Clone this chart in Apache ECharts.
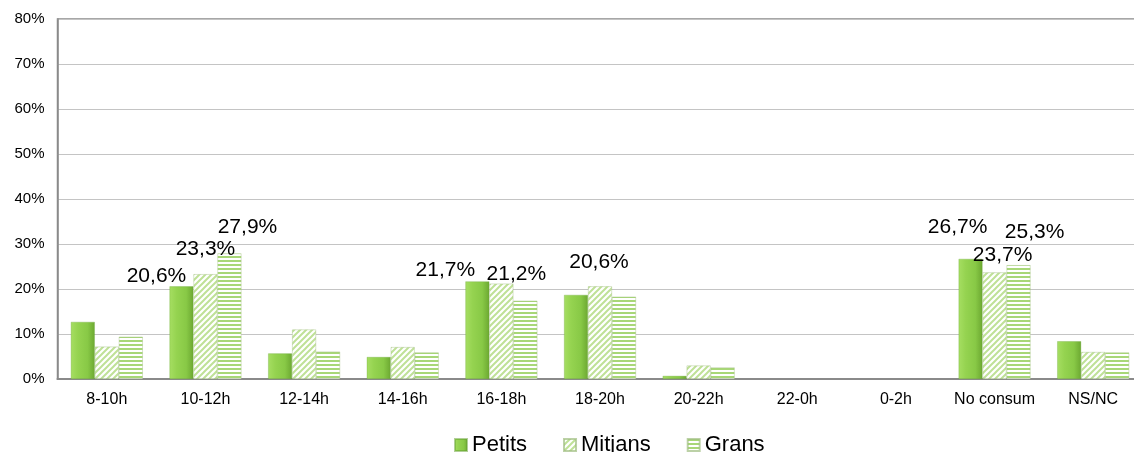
<!DOCTYPE html>
<html>
<head>
<meta charset="utf-8">
<script src="https://cdn.jsdelivr.net/npm/echarts@6/dist/echarts.min.js"></script>
<style>html,body{margin:0;padding:0;background:#fff;overflow:hidden;width:1134px;height:452px}#c{width:1143px;height:452px}</style>
</head>
<body>
<div id="c"></div>
<script>
var categories = ['8-10h','10-12h','12-14h','14-16h','16-18h','18-20h','20-22h','22-0h','0-2h','No consum','NS/NC'];
var seriesNames = ['Petits','Mitjans','Grans'];
var petits  = [12.7, 20.6, 5.7, 4.9, 21.7, 18.7, 0.7, 0, 0, 26.7, 8.4];
var mitjans = [7.2, 23.3, 11.0, 7.1, 21.2, 20.6, 3.0, 0, 0, 23.7, 6.0];
var grans   = [9.4, 27.9, 6.1, 5.9, 17.4, 18.3, 2.6, 0, 0, 25.3, 5.9];
var yTicks = [0, 10, 20, 30, 40, 50, 60, 70, 80];

// label placement (style only): [seriesIndex, categoryIndex] -> offset
var labelOffsets = {
  '0-1': [-25, 0], '1-1': [0, -14], '2-1': [18, -16],
  '0-4': [-32, -1], '1-4': [15, 1],
  '1-5': [-1, -14],
  '0-9': [-13, -21], '1-9': [8, -7], '2-9': [16, -22]
};

function makePattern(kind) {
  var c = document.createElement('canvas');
  var ctx = c.getContext('2d');
  if (kind === 'diag') {
    c.width = 6; c.height = 6;
    ctx.fillStyle = '#ffffff'; ctx.fillRect(0, 0, 6, 6);
    ctx.strokeStyle = '#bfe197'; ctx.lineWidth = 2.0;
    ctx.beginPath();
    ctx.moveTo(-1, 7); ctx.lineTo(7, -1);
    ctx.moveTo(-4, 4); ctx.lineTo(4, -4);
    ctx.moveTo(2, 10); ctx.lineTo(10, 2);
    ctx.stroke();
  } else {
    c.width = 4; c.height = 4;
    ctx.fillStyle = '#ffffff'; ctx.fillRect(0, 0, 4, 4);
    ctx.fillStyle = '#a8d777'; ctx.fillRect(0, 0, 4, 2);
  }
  return { image: c, repeat: 'repeat' };
}

var solidGreen = new echarts.graphic.LinearGradient(0, 0, 1, 0, [
  { offset: 0, color: '#a6de62' },
  { offset: 0.3, color: '#95d350' },
  { offset: 0.7, color: '#88c946' },
  { offset: 1, color: '#6ca831' }
]);
var colors = [solidGreen, makePattern('diag'), makePattern('horiz')];
var allData = [petits, mitjans, grans];
var fontFam = '"Liberation Sans", Arial, sans-serif';

function buildData(si) {
  return allData[si].map(function (v, ci) {
    var off = labelOffsets[si + '-' + ci];
    var item = { value: v };
    if (v === 0) { item.itemStyle = { borderWidth: 0 }; }
    if (off) {
      item.label = {
        show: true, position: 'top', distance: 0, offset: off,
        color: '#000', fontSize: 21, fontFamily: fontFam,
        formatter: function (p) { return p.value.toFixed(1).replace('.', ',') + '%'; }
      };
    }
    return item;
  });
}

var series = seriesNames.map(function (name, si) {
  return {
    name: name, type: 'bar', barWidth: 24, barGap: '0%',
    itemStyle: {
      color: colors[si],
      borderColor: si === 0 ? 'rgba(100,160,50,0.5)' : 'rgba(160,190,130,0.7)',
      borderWidth: 0.6
    },
    label: { show: false },
    emphasis: { disabled: true },
    data: buildData(si)
  };
});

var chart = echarts.init(document.getElementById('c'), null, { renderer: 'canvas' });
chart.setOption({
  animation: false,
  backgroundColor: '#ffffff',
  textStyle: { fontFamily: fontFam },
  grid: { left: 57.5, right: 0.5, top: 19, bottom: 73, show: true, borderColor: '#8a8a8a', borderWidth: 1.5, containLabel: false },
  legend: {
    data: seriesNames, left: 449, top: 429, icon: 'rect', itemWidth: 12, itemHeight: 12, itemGap: 36,
    textStyle: { fontSize: 22, color: '#000', fontFamily: fontFam }
  },
  xAxis: {
    type: 'category', data: categories,
    axisLine: { show: true, lineStyle: { color: '#8a8a8a', width: 2 } },
    axisTick: { show: false },
    axisLabel: { color: '#000', fontSize: 16, margin: 13, fontFamily: fontFam, interval: 0 }
  },
  yAxis: {
    type: 'value', min: yTicks[0], max: yTicks[yTicks.length - 1], interval: yTicks[1] - yTicks[0],
    axisLine: { show: true, lineStyle: { color: '#8a8a8a', width: 1.5 } },
    axisTick: { show: false },
    splitLine: { show: true, lineStyle: { color: '#c4c4c4', width: 1.2 } },
    axisLabel: { color: '#000', fontSize: 15, margin: 13, fontFamily: fontFam, formatter: '{value}%' }
  },
  series: series
});
</script>
</body>
</html>
